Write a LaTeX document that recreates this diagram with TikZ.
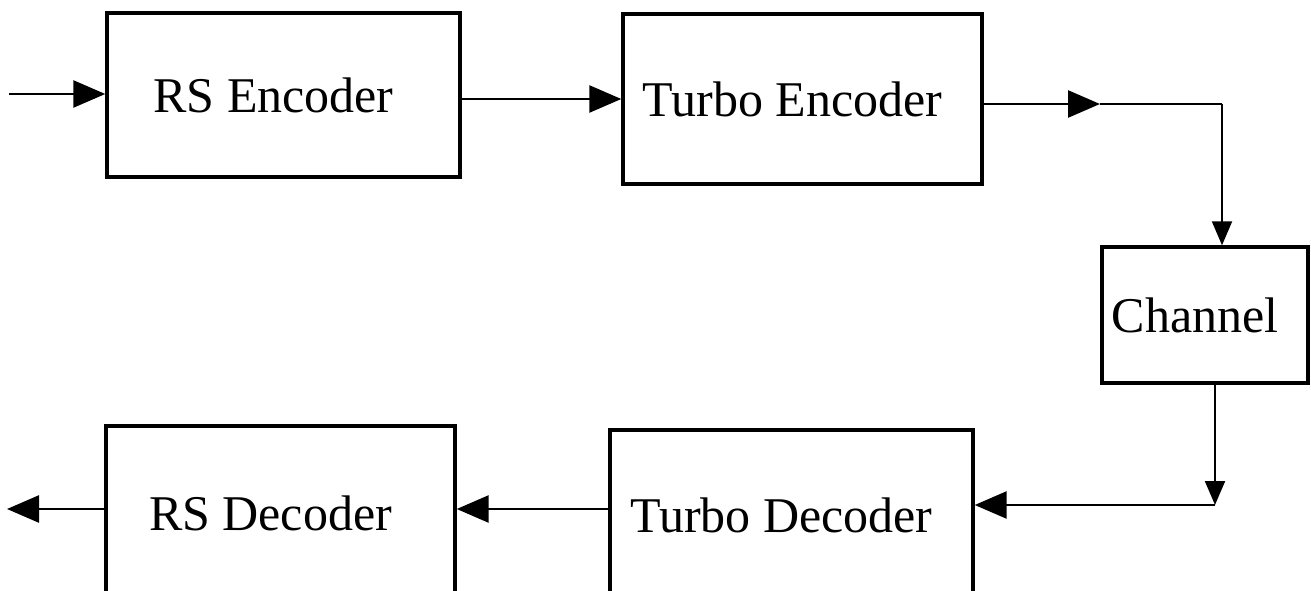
\documentclass[tikz,border=0pt]{standalone}
\usepackage{fontspec}
\setmainfont{Liberation Serif}
\usetikzlibrary{arrows.meta}
\tikzset{
    block/.style 2 args={draw, line width=3.4pt, minimum width=#1, minimum height=#2, inner sep=0pt,
        font=\fontsize{50}{60}\selectfont, execute at end node={\hspace*{20pt}}}, % 方框
    link/.style={line width=2.6pt, -{Triangle[length=32pt, width=27pt]}}, % 水平箭头
    link small/.style={line width=2pt, -{Triangle[length=24pt, width=20pt]}} % 竖直箭头
}
\begin{document}
\begin{tikzpicture}[x=1pt, y=-1pt]
    \def\W{1311} \def\H{591}
    \useasboundingbox (0,0) rectangle (\W,\H);

    \node[block={353pt}{164pt}] (rsenc) at (283.5,95) {RS Encoder};
    \node[block={359pt}{170pt}] (tenc) at (802.5,99) {Turbo Encoder};
    \node[block={206pt}{136pt}] (chan) at (1205,315) {Channel};
    \node[block={363pt}{170pt}] (tdec) at (791.5,515) {Turbo Decoder};
    \node[block={349pt}{174pt}] (rsdec) at (280.5,513) {RS Decoder};

    \coordinate (in) at (9,94);
    \coordinate (out) at (7,509);
    \coordinate (c1) at (1100,104);
    \coordinate (c3) at (1222,104);
    \coordinate (c4) at (1215,505);

    \draw[link] (in) -- (in -| rsenc.west);
    \draw[link] (rsenc.east |- tenc.west) -- (tenc.west);
    \draw[link] (tenc.east |- c1) -- (c1);
    \draw[line width=2pt] (c1) -- (c3);
    \draw[link small] (c3) -- (c3 |- chan.north);
    \draw[link small] (c4 |- chan.south) -- (c4);
    \draw[link] (c4) -- (c4 -| tdec.east);
    \draw[link] (out -| tdec.west) -- (out -| rsdec.east);
    \draw[link] (out -| rsdec.west) -- (out);
\end{tikzpicture}
\end{document}
